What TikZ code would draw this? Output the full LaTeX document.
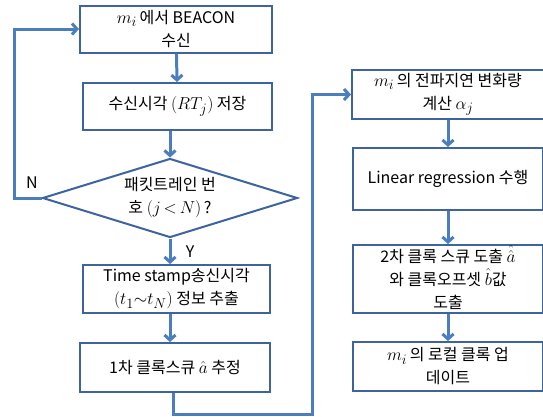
\documentclass[tikz,border=0pt]{standalone}
\usepackage{fontspec}
\setmainfont{Noto Sans CJK KR}
\DeclareMathSizes{16}{19}{14}{11}
\usetikzlibrary{arrows.meta,shapes.geometric}
\definecolor{boxblue}{RGB}{62,100,160}
\definecolor{lineblue}{RGB}{74,126,190}
\begin{document}
\begin{tikzpicture}[x=1pt,y=-1pt,
    font=\fontsize{16}{23}\selectfont,
    stepbox/.style={draw=boxblue, line width=2pt, fill=white, align=center, inner sep=0pt},
    decision/.style={draw=boxblue, line width=2pt, fill=white, align=center, diamond, aspect=3.2, inner sep=0pt},
    flow/.style={draw=lineblue, line width=3pt, -{Straight Barb[length=5pt,width=11pt]}}]
  \useasboundingbox (0,0) rectangle (543,416);
  % left column
  \node[stepbox, minimum width=192pt, minimum height=47pt] (beacon) at (176,29) {$m_i$\,에서 BEACON\\수신};
  \node[stepbox, minimum width=189pt, minimum height=47pt] (store) at (177.5,106.5) {수신시각 $(RT_j)$ 저장};
  \node[decision, minimum width=255pt, minimum height=79pt] (check) at (170,198) {패킷트레인 번\\호 $(j\,{<}\,N)$\,?};
  \node[stepbox, minimum width=187pt, minimum height=48pt] (extract) at (176.5,289) {Time stamp송신시각\\$(t_1{\sim}t_N)$ 정보 추출};
  \node[stepbox, minimum width=190pt, minimum height=49pt] (skew1) at (175,367.5) {1차 클록스큐 $\hat a$ 추정};
  % right column
  \node[stepbox, minimum width=192pt, minimum height=49pt] (delay) at (448,94.5) {$m_i$\,의 전파지연 변화량\\계산 $\alpha_j$};
  \node[stepbox, minimum width=190pt, minimum height=62pt] (regress) at (448,179) {Linear regression 수행};
  \node[stepbox, minimum width=190pt, minimum height=68pt] (skew2) at (448,279) {2차 클록 스큐 도출 \smash{$\hat{\hat a}$}\\와 클록오프셋 $\hat b$값\\도출};
  \node[stepbox, minimum width=190pt, minimum height=49pt] (update) at (448,366.5) {$m_i$\,의 로컬 클록 업\\데이트};
  % labels
  \node (no) at (32,183) {N};
  \node (yes) at (190,252) {Y};
  % connectors
  \coordinate (turn) at (312,414);
  \draw[flow] (beacon) -- (store);
  \draw[flow] (store.south -| check.north) -- (check.north);
  \draw[flow] (check.west) -- ++(-27,0) |- (beacon.west);
  \draw[flow] (check.south) -- (check.south |- extract.north);
  \draw[flow] (extract.south -| check.south) -- (check.south |- skew1.north);
  \draw[flow] (skew1.south -| 173,0) |- (turn) |- (delay.west);
  \draw[flow] (delay) -- (regress);
  \draw[flow] (regress) -- (skew2);
  \draw[flow] (skew2) -- (update);
\end{tikzpicture}
\end{document}
